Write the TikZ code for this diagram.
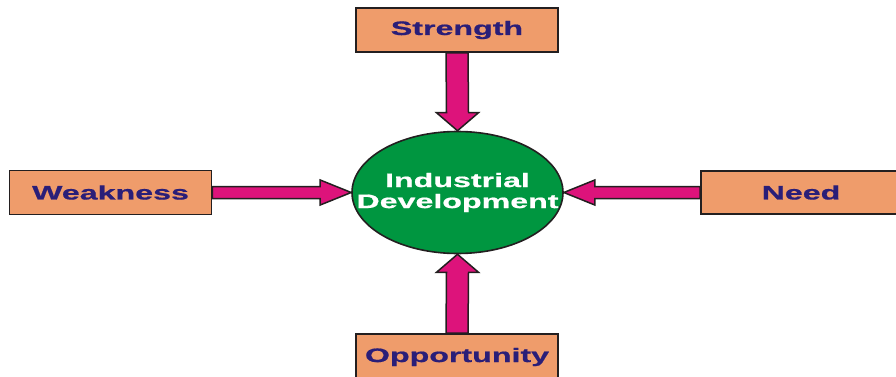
\documentclass[tikz,border=0pt]{standalone}
\usepackage{fontspec}
\usetikzlibrary{shapes.geometric}
\newfontfamily\widefont[FakeStretch=1.65,BoldFeatures={FakeBold=0.8}]{Liberation Sans}
\definecolor{boxfill}{HTML}{EF9C6B}
\definecolor{boxtext}{HTML}{2A1E78}
\definecolor{arrowfill}{HTML}{DD137B}
\definecolor{ellfill}{HTML}{009640}
\definecolor{edge}{HTML}{231F20}
\begin{document}
\begin{tikzpicture}[x=1pt,y=-1pt,
  labelbox/.style={draw=edge, line width=1.6pt, fill=boxfill, rectangle, inner sep=0pt,
    minimum width=202pt, minimum height=44pt, text=boxtext,
    font=\widefont\bfseries\fontsize{19.5}{21}\selectfont},
  hub/.style={draw=edge, line width=1.6pt, fill=ellfill, ellipse, inner sep=0pt,
    minimum width=211pt, minimum height=122pt},
  hubtext/.style={text=white, align=center, inner sep=0pt,
    font=\widefont\bfseries\fontsize{19.5}{21}\selectfont},
  fat/.style={draw=edge, line width=1.5pt, fill=arrowfill, line join=miter}]
\useasboundingbox (0,0) rectangle (896,377);
\node[hub] (c) at (457.5,192.5) {};
\node[hubtext] (ct) at (c.center) {Industrial\\Development};
\node[labelbox] (s) at (457,30) {Strength};
\node[labelbox] (w) at (110.5,192.5) {Weakness};
\node[labelbox, minimum width=200pt, minimum height=43pt] (n) at (801,192.5) {Need};
\node[labelbox, minimum height=46pt] (o) at (457,357) {Opportunity};
% Strength -> centre
\draw[fat] ([xshift=-11pt]s.south) -- ([xshift=-11pt,yshift=18pt]c.north)
  -- ([xshift=-21pt,yshift=18pt]c.north) -- (c.north)
  -- ([xshift=21pt,yshift=18pt]c.north) -- ([xshift=11pt,yshift=18pt]c.north)
  -- ([xshift=11pt]s.south) -- cycle;
% Opportunity -> centre
\draw[fat] ([xshift=-11pt]o.north) -- ([xshift=-11pt,yshift=-18pt]c.south)
  -- ([xshift=-21pt,yshift=-18pt]c.south) -- (c.south)
  -- ([xshift=21pt,yshift=-18pt]c.south) -- ([xshift=11pt,yshift=-18pt]c.south)
  -- ([xshift=11pt]o.north) -- cycle;
% Weakness -> centre
\draw[fat] ([yshift=6pt]w.east) -- ([xshift=-31pt,yshift=6pt]c.west)
  -- ([xshift=-31pt,yshift=12.5pt]c.west) -- (c.west)
  -- ([xshift=-31pt,yshift=-12.5pt]c.west) -- ([xshift=-31pt,yshift=-6pt]c.west)
  -- ([yshift=-6pt]w.east) -- cycle;
% Need -> centre
\draw[fat] ([yshift=6pt]n.west) -- ([xshift=31pt,yshift=6pt]c.east)
  -- ([xshift=31pt,yshift=12.5pt]c.east) -- (c.east)
  -- ([xshift=31pt,yshift=-12.5pt]c.east) -- ([xshift=31pt,yshift=-6pt]c.east)
  -- ([yshift=-6pt]n.west) -- cycle;
\end{tikzpicture}
\end{document}
